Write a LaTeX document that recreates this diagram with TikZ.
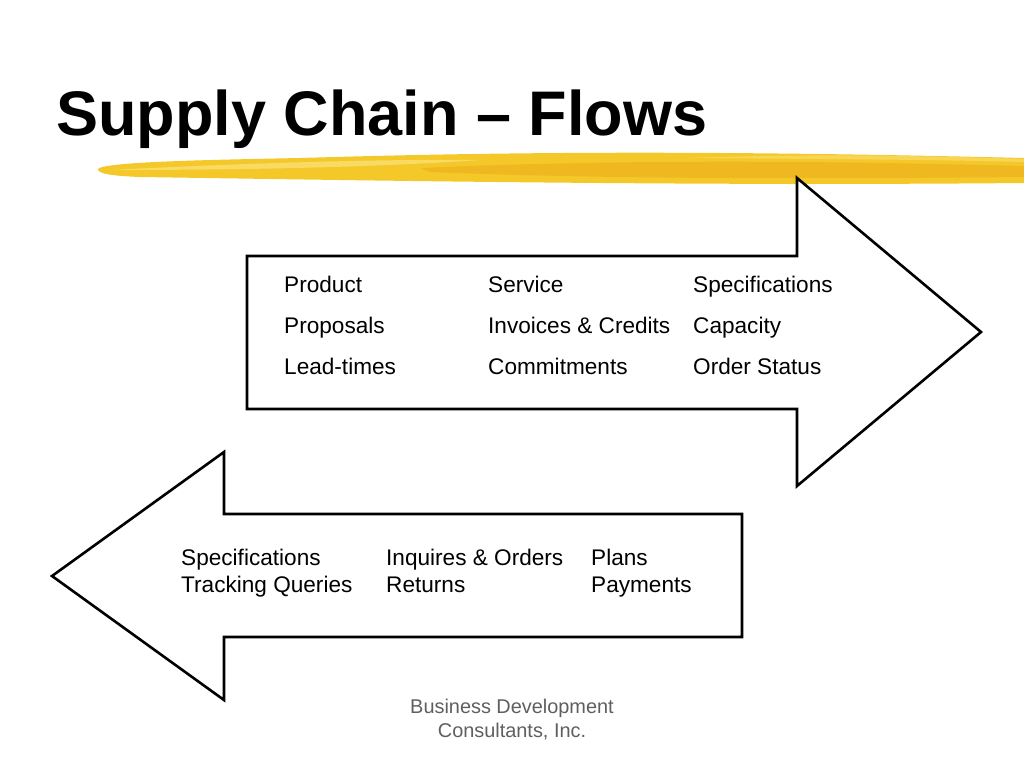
\documentclass[tikz,border=0pt]{standalone}
\usepackage{fontspec}
\setmainfont{Liberation Sans}
\usetikzlibrary{positioning}
\definecolor{flowInk}{HTML}{000000}
\definecolor{flowFoot}{HTML}{5F5F5F}
\definecolor{brushMain}{HTML}{F5C82A}
\definecolor{brushDark}{HTML}{EDB11C}
\definecolor{brushLight}{HTML}{FAE072}

\begin{document}
\begin{tikzpicture}[
  x=1pt, y=-1pt,
  flowarrow/.style={draw=flowInk, line width=2.6pt, fill=white, line join=miter},
  item/.style={anchor=base west, inner sep=0pt, font=\fontsize{22.6}{26}\selectfont},
  heading/.style={anchor=base west, inner sep=0pt, font=\fontsize{63}{70}\selectfont\bfseries},
  foot/.style={align=center, inner sep=0pt, text=flowFoot, font=\fontsize{19.9}{24}\selectfont}
]
\useasboundingbox (0,0) rectangle (1024,768);

% title and brush stroke
\node[heading] (title) at (56,135) {Supply Chain -- Flows};
\fill[brushMain] (98,169) .. controls (104,162) and (200,160) .. (300,158)
  .. controls (500,152) and (700,150) .. (1024,158)
  -- (1024,183) .. controls (700,186) and (400,181) .. (140,177)
  .. controls (115,176) and (97,174) .. (98,169) -- cycle;
\fill[brushDark, opacity=0.7] (420,168) .. controls (600,160) and (800,160) .. (1024,166)
  -- (1024,177) .. controls (800,179) and (600,179) .. (430,172) -- cycle;
\fill[brushLight, opacity=0.8] (110,170) .. controls (250,163) and (380,159) .. (480,160)
  .. controls (380,167) and (250,170) .. (110,170) -- cycle;
\fill[brushLight, opacity=0.6] (690,158) .. controls (800,154) and (900,155) .. (1024,159)
  -- (1024,162) .. controls (900,159) and (800,159) .. (690,158) -- cycle;

% forward flow
\draw[flowarrow] (247,256) -- (797,256) -- (797,178) -- (981,332) -- (797,486)
  -- (797,409) -- (247,409) -- cycle;
\node[item] (product) at (284,292) {Product};
\node[item] (proposals) at (284,333) {Proposals};
\node[item] (leadtimes) at (284,374) {Lead-times};
\node[item] (service) at (488,292) {Service};
\node[item] (invoices) at (488,333) {Invoices \& Credits};
\node[item] (commit) at (488,374) {Commitments};
\node[item] (specsfwd) at (693,292) {Specifications};
\node[item] (capacity) at (693,333) {Capacity};
\node[item] (status) at (693,374) {Order Status};

% backward flow
\draw[flowarrow] (742,514) -- (224,514) -- (224,452) -- (52,576) -- (224,700)
  -- (224,637) -- (742,637) -- cycle;
\node[item] (specsback) at (181,565) {Specifications};
\node[item] (tracking) at (181,592) {Tracking Queries};
\node[item] (inquires) at (386,565) {Inquires \& Orders};
\node[item] (returns) at (386,592) {Returns};
\node[item] (plans) at (591,565) {Plans};
\node[item] (payments) at (591,592) {Payments};

% footer
\node[foot] (company) at (512,720) {Business Development\\Consultants, Inc.};
\end{tikzpicture}
\end{document}
